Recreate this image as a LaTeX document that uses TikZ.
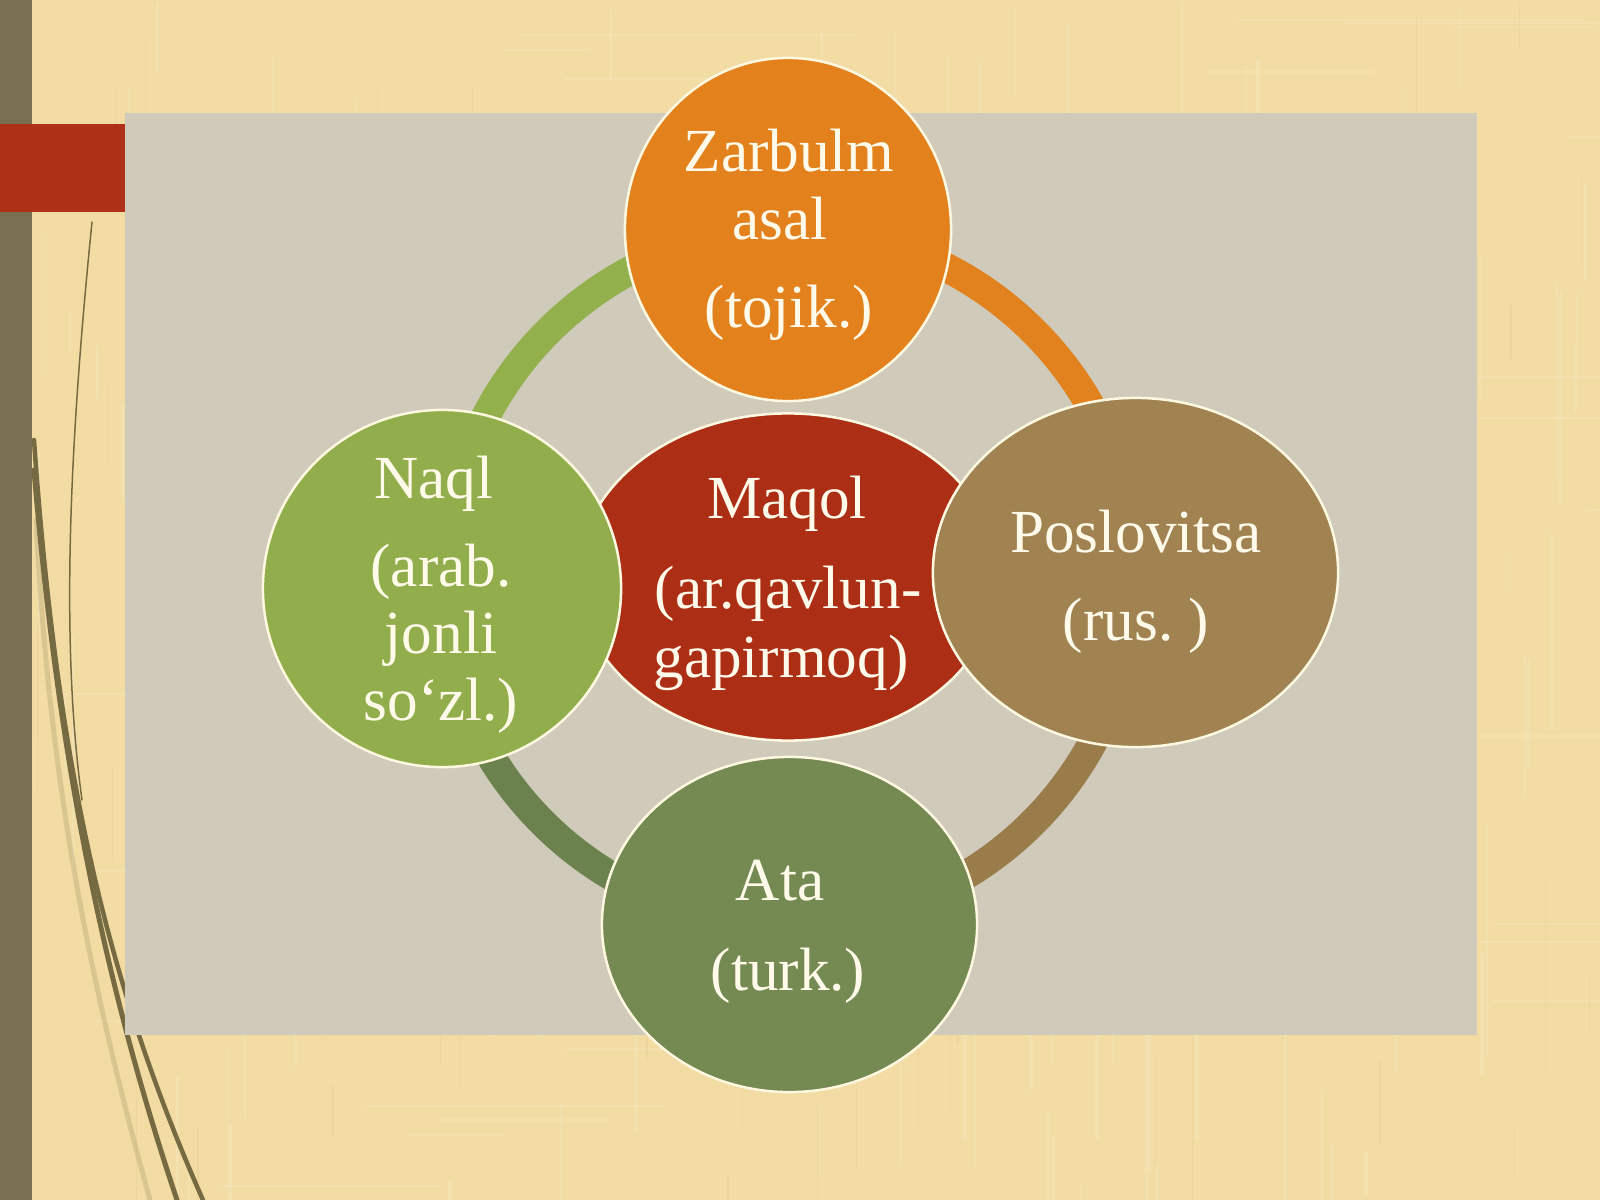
\documentclass[tikz,border=0pt]{standalone}
\usepackage{fontspec}
\setmainfont{Liberation Serif}
\usetikzlibrary{shapes.geometric}
\definecolor{bgtan}{RGB}{242,220,163}
\definecolor{barcol}{RGB}{121,111,82}
\definecolor{redbar}{RGB}{174,48,22}
\definecolor{panelcol}{RGB}{207,202,186}
\definecolor{rimcol}{RGB}{255,248,225}
\definecolor{txtcol}{RGB}{255,250,234}
\definecolor{orangeC}{RGB}{227,129,29}
\definecolor{lgreenC}{RGB}{146,174,76}
\definecolor{brownC}{RGB}{160,131,81}
\definecolor{dgreenC}{RGB}{116,138,82}
\definecolor{redC}{RGB}{171,46,21}
\definecolor{reedcol}{RGB}{118,106,66}
\definecolor{arcOr}{RGB}{226,130,30}
\definecolor{arcLg}{RGB}{146,176,76}
\definecolor{arcBr}{RGB}{153,124,74}
\definecolor{arcDg}{RGB}{108,130,78}
\pgfdeclarelayer{bglayer}
\pgfdeclarelayer{ringlayer}
\pgfsetlayers{bglayer,ringlayer,main}
\tikzset{
  bubble/.style={ellipse, draw=rimcol, line width=0.025cm, inner sep=0pt, outer sep=0pt},
  lbl/.style={text=txtcol, font=\fontsize{17.4}{19}\selectfont, anchor=base, inner sep=0pt},
  ringarc/.style={line width=0.29cm},
  reed/.style={draw=reedcol, line cap=round},
}
\begin{document}
\begin{tikzpicture}[x=0.01cm,y=-0.01cm]
\useasboundingbox (0,0) rectangle (1600,1200);
\begin{pgfonlayer}{bglayer}
% background
\fill[bgtan] (0,0) rectangle (1600,1200);
\pgfmathsetseed{11}
\foreach \i in {1,...,160}{
  \pgfmathsetmacro\xx{rnd*1600}
  \pgfmathsetmacro\yy{rnd*1200}
  \pgfmathsetmacro\ll{40+rnd*220}
  \pgfmathsetmacro\ww{0.01+rnd*0.03}
  \draw[white, opacity=0.14, line width=\ww cm] (\xx,\yy) -- ++(0,\ll);
}
\foreach \i in {1,...,90}{
  \pgfmathsetmacro\xx{rnd*1600}
  \pgfmathsetmacro\yy{rnd*1200}
  \pgfmathsetmacro\ll{30+rnd*160}
  \draw[brown, opacity=0.07, line width=0.012cm] (\xx,\yy) -- ++(0,\ll);
}
\foreach \i in {1,...,40}{
  \pgfmathsetmacro\xx{rnd*1600}
  \pgfmathsetmacro\yy{rnd*1200}
  \pgfmathsetmacro\ll{80+rnd*300}
  \draw[white, opacity=0.12, line width=0.02cm] (\xx,\yy) -- ++(\ll,0);
}
% left dark bar
\fill[barcol] (0,0) rectangle (32,1200);
% reeds
\draw[reed, opacity=0.2, line width=0.05cm] (36,520) .. controls (50,800) and (95,1000) .. (150,1200);
\draw[reed, line width=0.015cm] (92,222) .. controls (70,440) and (60,640) .. (82,800);
\draw[reed, line width=0.045cm] (34,440) .. controls (58,780) and (110,990) .. (203,1200);
\draw[reed, line width=0.05cm] (34,470) .. controls (60,780) and (110,1000) .. (177,1200);
% red accent
\fill[redbar] (0,124) rectangle (125,212);
% panel
\fill[panelcol] (125,113) rectangle (1477,1035);
\end{pgfonlayer}
% center
\node[bubble, fill=redC, minimum width=4.2cm, minimum height=3.27cm] (maqol) at (788,577) {};
% outer nodes
\node[bubble, fill=orangeC, minimum width=3.26cm, minimum height=3.43cm] (top) at (788,229.5) {};
\node[bubble, fill=lgreenC, minimum width=3.58cm, minimum height=3.57cm] (left) at (442,588.5) {};
\node[bubble, fill=brownC, minimum width=4.05cm, minimum height=3.49cm] (right) at (1135.5,572.5) {};
\node[bubble, fill=dgreenC, minimum width=3.75cm, minimum height=3.35cm] (bottom) at (789.5,924.5) {};
% ring arcs (behind nodes)
\begin{pgfonlayer}{ringlayer}
\draw[ringarc, arcOr] (top.center) arc[start angle=-90, end angle=0, radius=347.5];
\draw[ringarc, arcBr] (right.center) ++(-1,4.5) arc[start angle=0, end angle=90, radius=347.5];
\draw[ringarc, arcDg] (bottom.center) ++(-1,-0) arc[start angle=90, end angle=180, radius=347.5];
\draw[ringarc, arcLg] (left.center) ++(4.5,-11.5) arc[start angle=180, end angle=270, radius=347.5];
\end{pgfonlayer}
% labels
\node[lbl] (t1) at (789,171) {Zarbulm};
\node[lbl] (t2) at (780,239) {asal};
\node[lbl] (t3) at (789,327) {(tojik.)};
\node[lbl] (l1) at (434,498) {Naql};
\node[lbl] (l2) at (441,586) {(arab.};
\node[lbl] (l3) at (441,653) {jonli};
\node[lbl] (l4) at (441,720) {so‘zl.)};
\node[lbl] (m1) at (787,518) {Maqol};
\node[lbl] (m2) at (788,608) {(ar.qavlun-};
\node[lbl] (m3) at (781,677) {gapirmoq)};
\node[lbl] (r1) at (1136,552) {Poslovitsa};
\node[lbl] (r2) at (1136,640) {(rus.~)};
\node[lbl] (b1) at (780,900) {Ata};
\node[lbl] (b2) at (788,990) {(turk.)};
\end{tikzpicture}
\end{document}
